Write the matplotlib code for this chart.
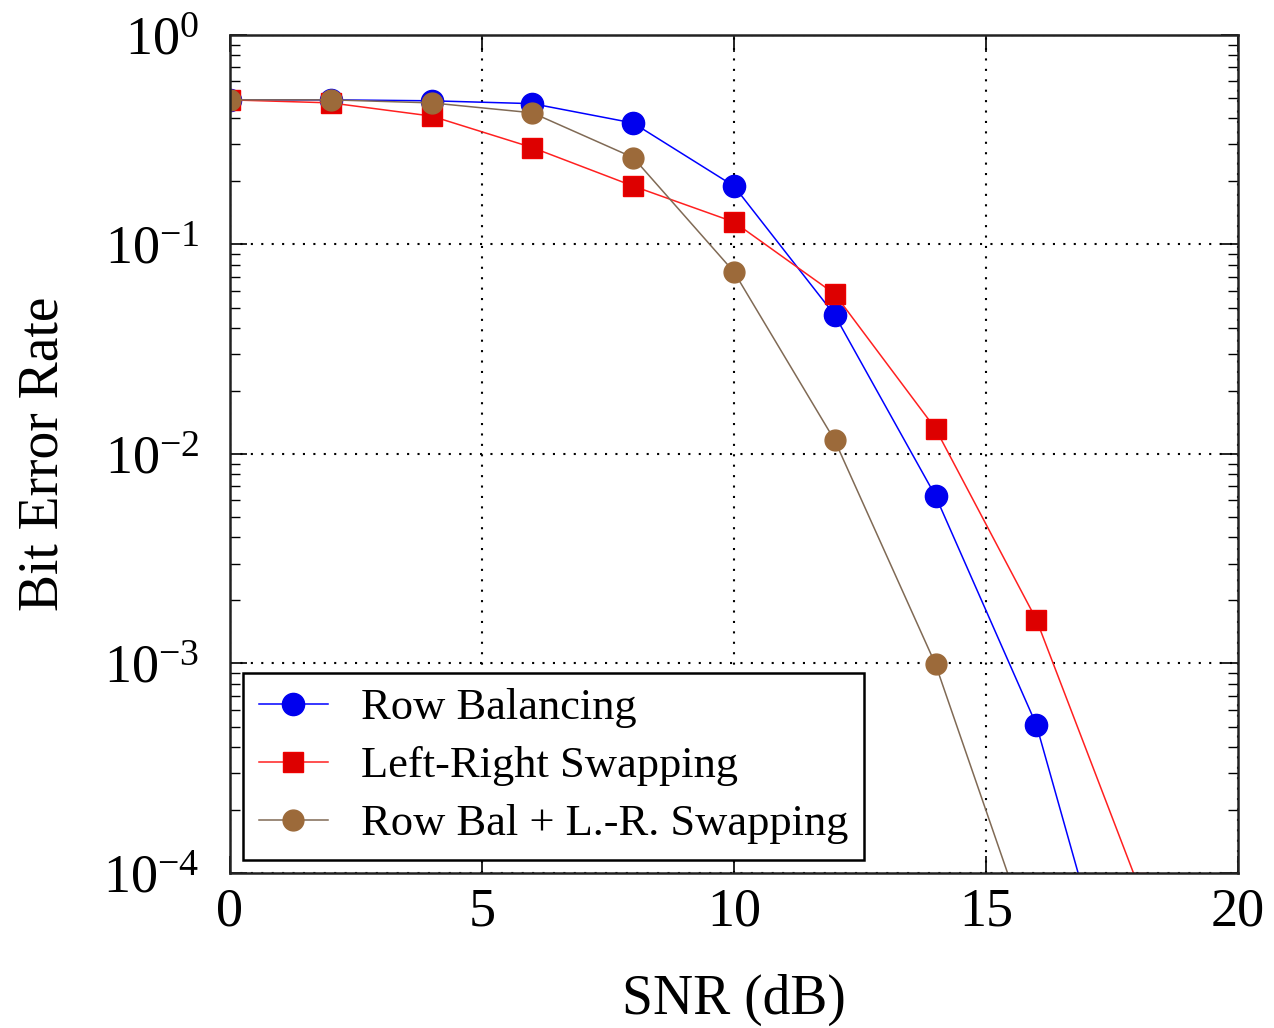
import matplotlib
matplotlib.use("Agg")
import matplotlib.pyplot as plt
from matplotlib.ticker import LogLocator, FixedLocator, NullFormatter

# data
snr_db = [0, 2, 4, 6, 8, 10, 12, 14, 16, 18]
ber_row_bal = [0.49, 0.49, 0.485, 0.47, 0.38, 0.19, 0.046, 0.0063, 5.1e-4, 1.0e-5]
ber_lr_swap = [0.49, 0.474, 0.41, 0.29, 0.19, 0.128, 0.058, 0.0132, 1.62e-3, 9.0e-5]
snr_db_both = [0, 2, 4, 6, 8, 10, 12, 14, 16]
ber_both = [0.49, 0.49, 0.474, 0.425, 0.26, 0.074, 0.0116, 9.9e-4, 4.0e-5]

x_ticks = [0, 5, 10, 15, 20]
y_ticks = [1e-4, 1e-3, 1e-2, 1e-1, 1e0]
y_tick_labels = [r'$10^{-4}$', r'$10^{-3}$', r'$10^{-2}$', r'$10^{-1}$', r'$10^{0}$']

plt.rcParams['font.family'] = ['Liberation Serif', 'DejaVu Serif']
plt.rcParams['mathtext.fontset'] = 'custom'
plt.rcParams['mathtext.rm'] = 'Liberation Serif'
plt.rcParams['mathtext.it'] = 'Liberation Serif:italic'

fig = plt.figure(figsize=(12.74, 10.28), dpi=100)
ax = fig.add_axes([0.1805, 0.1508, 0.7912, 0.8152])

ax.plot(snr_db, ber_row_bal, '-', color='#0000ff', lw=1.1, marker='o',
        markersize=16, markerfacecolor='#0000ee', markeredgecolor='#0000ee',
        label='Row Balancing')
ax.plot(snr_db, ber_lr_swap, '-', color='#ff2020', lw=1.1, marker='s',
        markersize=15, markerfacecolor='#dd0000', markeredgecolor='#ee0000',
        label='Left-Right Swapping')
ax.plot(snr_db_both, ber_both, '-', color='#806a55', lw=1.1, marker='o',
        markersize=15, markerfacecolor='#9c6a3a', markeredgecolor='#9c6a3a',
        label='Row Bal + L.-R. Swapping')

ax.set_yscale('log')
ax.set_xlim(0, 20)
ax.set_ylim(1e-4, 1e0)

ax.xaxis.set_major_locator(FixedLocator(x_ticks))
ax.set_yticks(y_ticks)
ax.set_yticklabels(y_tick_labels)
ax.yaxis.set_minor_locator(LogLocator(base=10, subs=range(2, 10)))
ax.yaxis.set_minor_formatter(NullFormatter())

ax.tick_params(axis='both', which='major', direction='in', top=True, right=True,
               length=12, width=1.2, labelsize=39, pad=10)
ax.tick_params(axis='y', which='major', pad=22)
ax.tick_params(axis='y', which='minor', direction='in', left=True, right=True,
               length=7, width=1.0)
ax.tick_params(axis='x', which='minor', bottom=False, top=False)

ax.grid(True, which='major', color='black', linestyle=(0, (1, 4)), linewidth=1.5)

for sp in ax.spines.values():
    sp.set_linewidth(1.8)
    sp.set_color('#222222')

ax.set_xlabel('SNR (dB)', fontsize=40, labelpad=26)
ax.set_ylabel('Bit Error Rate', fontsize=40, labelpad=24)

leg = ax.legend(loc='lower left', fontsize=32, frameon=True, fancybox=False,
                edgecolor='black', handlelength=1.55, handletextpad=0.75,
                borderpad=0.35, labelspacing=0.4, borderaxespad=0.3)
leg.get_frame().set_linewidth(1.8)
leg.get_frame().set_alpha(1.0)

fig.savefig('out.png', dpi=100)
